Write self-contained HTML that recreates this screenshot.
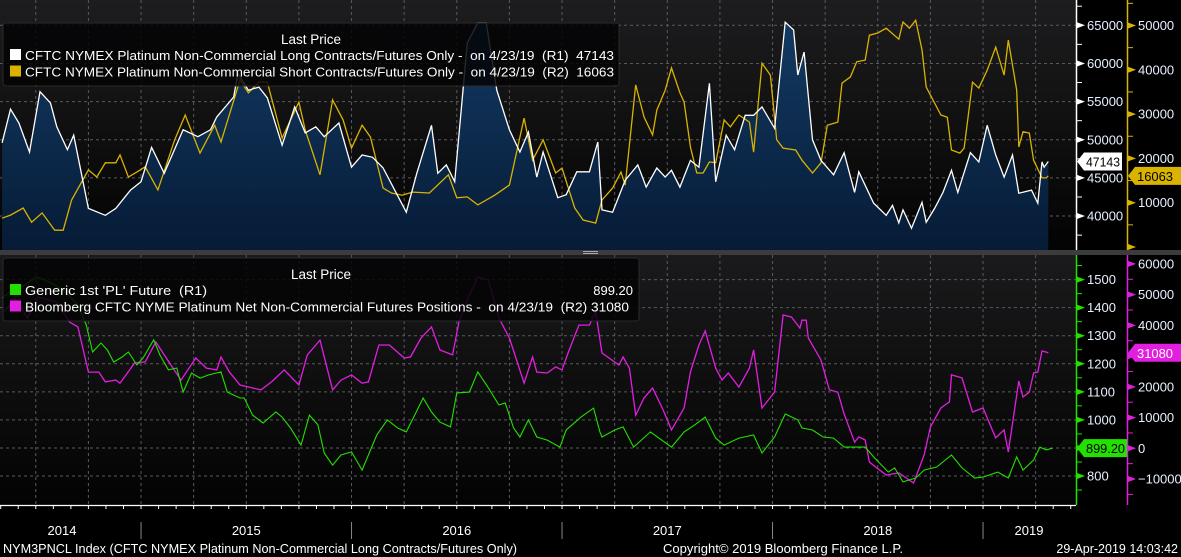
<!DOCTYPE html>
<html><head><meta charset="utf-8"><style>
html,body{margin:0;padding:0;background:#000;width:1181px;height:557px;overflow:hidden}
svg{display:block;font-family:"Liberation Sans",sans-serif}
text{white-space:pre}
</style></head><body>
<svg id="chart" xmlns="http://www.w3.org/2000/svg" width="1181" height="557" viewBox="0 0 1181 557">
<defs>
<linearGradient id="bgU" x1="0" y1="0" x2="0" y2="1"><stop offset="0" stop-color="#1d1d1f"/><stop offset="1" stop-color="#030303"/></linearGradient>
<linearGradient id="bgL" x1="0" y1="0" x2="0" y2="1"><stop offset="0" stop-color="#1a1a1c"/><stop offset="1" stop-color="#030303"/></linearGradient>
<linearGradient id="fillU" x1="0" y1="0" x2="0" y2="1"><stop offset="0" stop-color="#133a63"/><stop offset="1" stop-color="#061b36"/></linearGradient>
<clipPath id="clipU"><rect x="0" y="0" width="1076" height="250"/></clipPath>
<clipPath id="clipL"><rect x="0" y="255" width="1076" height="250"/></clipPath>
</defs>
<rect x="0" y="0" width="1076" height="250" fill="url(#bgU)"/>
<rect x="0" y="255" width="1076" height="250" fill="url(#bgL)"/>
<g id="gU" clip-path="url(#clipU)"></g>
<g id="gL" clip-path="url(#clipL)"></g>
<rect x="0" y="250" width="1181" height="5" fill="#3c3c3e"/>
<rect x="583" y="251" width="15" height="1" fill="#aaa"/>
<rect x="583" y="253" width="15" height="1" fill="#aaa"/>
<g id="axes"></g>
<g id="legends"></g>
<text x="3" y="553" fill="#fff" font-size="12.5" textLength="514" lengthAdjust="spacingAndGlyphs">NYM3PNCL Index (CFTC NYMEX Platinum Non-Commercial Long Contracts/Futures Only)</text>
<text x="663" y="553" fill="#fff" font-size="12.5" textLength="240" lengthAdjust="spacingAndGlyphs">Copyright© 2019 Bloomberg Finance L.P.</text>
<text x="1178" y="553" fill="#fff" font-size="12.5" text-anchor="end">29-Apr-2019 14:03:42</text>
</svg>
<script>
// ---- data (time in decimal years) ----
const longT=[2014.34,2014.38,2014.42,2014.47,2014.52,2014.57,2014.60,2014.65,2014.68,2014.75,2014.83,2014.88,2014.95,2015.00,2015.05,2015.11,2015.20,2015.27,2015.33,2015.36,2015.44,2015.46,2015.51,2015.56,2015.60,2015.67,2015.73,2015.78,2015.83,2015.87,2015.94,2016.00,2016.05,2016.10,2016.15,2016.26,2016.31,2016.38,2016.41,2016.45,2016.49,2016.55,2016.60,2016.64,2016.69,2016.75,2016.80,2016.84,2016.88,2016.91,2016.98,2017.02,2017.07,2017.13,2017.17,2017.19,2017.24,2017.30,2017.36,2017.40,2017.45,2017.49,2017.52,2017.56,2017.61,2017.65,2017.70,2017.73,2017.78,2017.82,2017.87,2017.91,2017.95,2018.01,2018.06,2018.10,2018.12,2018.15,2018.19,2018.23,2018.29,2018.34,2018.39,2018.41,2018.48,2018.54,2018.57,2018.60,2018.62,2018.66,2018.71,2018.73,2018.77,2018.81,2018.85,2018.88,2018.94,2018.98,2019.02,2019.06,2019.10,2019.14,2019.17,2019.23,2019.26,2019.28,2019.29,2019.31];
const longV=[49600,54000,52200,48400,56300,54800,51700,48700,50600,41000,40100,41000,43400,44500,49000,45600,51300,50400,51300,53000,55600,58700,56500,56900,55500,49300,54300,50900,51700,50400,52200,46400,48000,47700,46300,40500,45600,51900,45600,46700,44500,62700,65300,65300,56500,51300,48400,51000,45100,48400,42400,42800,45800,45800,49700,40800,40500,44700,46700,43800,46300,45100,46000,43800,47300,46400,57400,44500,50600,48700,53200,53200,54300,51500,65400,64400,58500,61500,50000,47300,45400,48300,43100,45800,41700,40100,41400,39100,40800,38400,41800,39200,41000,43100,46000,43100,48300,47100,51900,48000,45100,48000,43000,43400,41700,47100,46400,47143];
const shortT=[2014.34,2014.38,2014.44,2014.48,2014.53,2014.59,2014.63,2014.67,2014.75,2014.79,2014.83,2014.88,2014.90,2014.94,2014.98,2015.02,2015.08,2015.16,2015.21,2015.28,2015.35,2015.38,2015.47,2015.51,2015.56,2015.60,2015.67,2015.75,2015.78,2015.85,2015.91,2015.96,2016.00,2016.05,2016.09,2016.15,2016.19,2016.24,2016.29,2016.37,2016.46,2016.50,2016.55,2016.60,2016.68,2016.75,2016.82,2016.86,2016.91,2016.97,2017.00,2017.06,2017.10,2017.16,2017.19,2017.24,2017.28,2017.30,2017.35,2017.39,2017.43,2017.45,2017.49,2017.52,2017.56,2017.58,2017.61,2017.64,2017.67,2017.70,2017.73,2017.77,2017.80,2017.84,2017.89,2017.91,2017.95,2017.99,2018.02,2018.05,2018.11,2018.14,2018.19,2018.23,2018.26,2018.31,2018.33,2018.37,2018.40,2018.44,2018.46,2018.50,2018.54,2018.60,2018.62,2018.65,2018.68,2018.71,2018.73,2018.80,2018.83,2018.85,2018.89,2018.91,2018.95,2018.98,2019.02,2019.06,2019.10,2019.12,2019.16,2019.17,2019.19,2019.22,2019.24,2019.28,2019.30,2019.31];
const shortV=[6500,7200,8800,5600,7700,3800,3800,10600,17400,15800,19000,19000,20800,15800,16900,18100,12900,24200,29800,21200,27500,23700,37700,34800,37200,37200,24600,32700,26400,16300,33200,28700,22300,27500,24800,13300,12200,11700,12400,12200,16300,11100,11300,9500,11700,14000,29100,19600,24200,16700,17800,8800,6100,5400,10600,13300,16900,14000,36600,29300,25300,30900,35400,40400,34800,32700,22600,16700,16700,19200,19000,28700,27100,29800,28200,21400,41500,38800,24200,22300,21900,19600,16700,19000,27500,28200,37000,38400,41800,42200,47800,48300,49400,46900,50800,49400,51200,44500,36100,29800,29300,21900,21200,22300,37200,35900,39900,45100,38800,46700,35400,22600,26000,25700,19600,15600,15600,16063];
const plT=[2014.34,2014.37,2014.40,2014.45,2014.50,2014.54,2014.59,2014.64,2014.70,2014.74,2014.77,2014.81,2014.84,2014.87,2014.91,2014.94,2014.98,2015.01,2015.06,2015.09,2015.13,2015.17,2015.20,2015.24,2015.28,2015.32,2015.38,2015.41,2015.47,2015.49,2015.53,2015.58,2015.64,2015.67,2015.71,2015.76,2015.80,2015.84,2015.87,2015.91,2015.95,2016.00,2016.05,2016.08,2016.12,2016.17,2016.22,2016.26,2016.30,2016.34,2016.38,2016.42,2016.47,2016.50,2016.56,2016.60,2016.65,2016.70,2016.73,2016.77,2016.80,2016.84,2016.88,2016.93,2016.99,2017.02,2017.09,2017.15,2017.18,2017.19,2017.25,2017.29,2017.34,2017.42,2017.46,2017.52,2017.58,2017.63,2017.68,2017.73,2017.77,2017.84,2017.91,2017.95,2018.01,2018.06,2018.12,2018.14,2018.19,2018.24,2018.29,2018.34,2018.40,2018.44,2018.48,2018.55,2018.58,2018.62,2018.68,2018.72,2018.78,2018.85,2018.90,2018.96,2019.00,2019.07,2019.12,2019.16,2019.19,2019.24,2019.27,2019.30,2019.33];
const plV=[1434,1452,1474,1481,1509,1499,1481,1456,1409,1338,1242,1274,1249,1206,1224,1242,1196,1221,1285,1231,1178,1185,1099,1167,1149,1160,1171,1099,1078,1078,1017,989,1028,1010,971,910,1017,982,882,839,875,886,821,875,946,1000,971,957,1017,1078,1028,992,975,1096,1099,1171,1114,1053,1060,971,939,1000,939,928,903,964,1010,1042,957,939,964,975,903,957,935,903,957,982,1010,935,910,935,946,882,939,1021,1000,971,964,939,935,903,903,903,868,814,829,779,793,821,832,875,829,793,796,814,793,868,821,857,903,893,899.2];
const netT=[2014.35,2014.40,2014.46,2014.51,2014.60,2014.66,2014.70,2014.75,2014.80,2014.83,2014.88,2014.90,2014.97,2015.02,2015.07,2015.11,2015.19,2015.26,2015.31,2015.36,2015.38,2015.42,2015.47,2015.57,2015.62,2015.68,2015.75,2015.79,2015.85,2015.91,2015.95,2016.00,2016.05,2016.08,2016.13,2016.18,2016.25,2016.28,2016.33,2016.38,2016.42,2016.48,2016.51,2016.56,2016.60,2016.65,2016.70,2016.75,2016.82,2016.86,2016.88,2016.93,2016.97,2017.00,2017.03,2017.08,2017.13,2017.16,2017.19,2017.27,2017.29,2017.32,2017.35,2017.39,2017.43,2017.48,2017.52,2017.58,2017.61,2017.65,2017.68,2017.73,2017.76,2017.79,2017.84,2017.89,2017.91,2017.95,2018.01,2018.05,2018.09,2018.13,2018.14,2018.16,2018.17,2018.23,2018.27,2018.31,2018.34,2018.39,2018.41,2018.44,2018.46,2018.54,2018.60,2018.67,2018.72,2018.75,2018.80,2018.84,2018.85,2018.90,2018.95,2019.00,2019.06,2019.10,2019.12,2019.17,2019.19,2019.22,2019.24,2019.26,2019.28,2019.31];
const netV=[44400,48900,42400,49200,47600,41100,39500,24800,24800,21600,22200,21200,27800,28100,34600,30400,22200,29400,26100,25500,29700,24800,20600,19000,21600,25500,20600,30400,35200,19000,22200,23900,21200,21600,33600,33600,29400,29700,35900,39500,32000,30400,41100,49900,55700,54800,42400,35900,21200,29700,24800,24500,26500,25500,31300,40100,40100,44400,31000,27100,29700,26100,10800,16400,19600,12500,6000,13100,24800,33600,38200,26100,22200,24500,19900,26100,32000,13100,18300,43400,42700,39100,41700,41700,35900,28700,19000,18300,11200,2000,3700,2700,-4500,-8700,-8000,-11300,-2200,6900,13100,15100,23900,22900,11800,13100,3400,6000,-1200,21900,16700,18300,24500,24800,31700,31080];
// ticks
const upperLeftTicks=[40000,45000,50000,55000,60000,65000];
const upperRightTicks=[0,10000,20000,30000,40000,50000];
const lowerLeftTicks=[800,900,1000,1100,1200,1300,1400,1500];
const lowerRightTicks=[-10000,0,10000,20000,30000,40000,50000,60000];
const yearLabels=["2014","2015","2016","2017","2018","2019"];
const yearStarts=[2014,2015,2016,2017,2018,2019];
const lastLong=47143, lastShort=16063, lastPL=899.20, lastNet=31080;

// ---- scales ----
const X=t=>(t-2014.33)*210.5;
const yU1=v=>25.3+(65000-v)*0.00763;
const yU2=v=>247-v*0.00443;
const yL1=v=>476-(v-800)*0.2806;
const yL2=v=>448.3-v*0.003073;
const NS="http://www.w3.org/2000/svg";
function mk(tag,attrs,parent){const e=document.createElementNS(NS,tag);for(const k in attrs)e.setAttribute(k,attrs[k]);parent.appendChild(e);return e;}
const gU=document.getElementById('gU'),gL=document.getElementById('gL'),ax=document.getElementById('axes'),lg=document.getElementById('legends');

// grids
for(let q=2014.25;q<2019.5;q+=0.25){
  const x=X(q); if(x<0||x>1076)continue;
  const a=mk('line',{x1:x,y1:0,x2:x,y2:250,stroke:'#5a5a5e','stroke-dasharray':'3 3','stroke-width':1},gU);
  
  
  const b=mk('line',{x1:x,y1:255,x2:x,y2:505,stroke:'#5a5a5e','stroke-dasharray':'3 3','stroke-width':1},gL);
  
  
}
upperLeftTicks.forEach(v=>{const y=yU1(v);
  const l=mk('line',{x1:0,y1:y,x2:1076,y2:y,stroke:'#5a5a5e','stroke-dasharray':'3 3'},gU);
  
  });
lowerLeftTicks.forEach(v=>{const y=yL1(v);
  const l=mk('line',{x1:0,y1:y,x2:1076,y2:y,stroke:'#5a5a5e','stroke-dasharray':'3 3'},gL);
  
  });

function pts(T,V,fy){return T.map((t,i)=>X(t).toFixed(1)+','+fy(V[i]).toFixed(1));}
const lp=pts(longT,longV,yU1);
const area=mk('path',{d:'M'+X(longT[0])+',250 L'+lp.join(' L')+' L'+X(longT[longT.length-1])+',250 Z',fill:'url(#fillU)'},gU);


const sl=mk('polyline',{points:pts(shortT,shortV,yU2).join(' '),fill:'none',stroke:'#d9b300','stroke-width':1.3},gU);


const ll=mk('polyline',{points:lp.join(' '),fill:'none',stroke:'#ffffff','stroke-width':1.3},gU);


const nl=mk('polyline',{points:pts(netT,netV,yL2).join(' '),fill:'none',stroke:'#e21ee0','stroke-width':1.3},gL);


const pl=mk('polyline',{points:pts(plT,plV,yL1).join(' '),fill:'none',stroke:'#22e000','stroke-width':1.1},gL);



// axes
function axisLine(x,y1,y2,c,name){const l=mk('line',{x1:x,y1:y1,x2:x,y2:y2,stroke:c,'stroke-width':1.5},ax);
  
  }
axisLine(1076.5,0,250,'#ffffff','upper-left-axis-line');
axisLine(1127.5,0,250,'#d9b300','upper-right-axis-line');
axisLine(1076.5,255,505,'#22e000','lower-left-axis-line');
axisLine(1127.5,255,505,'#e21ee0','lower-right-axis-line');
function tickLabel(x,y,txt,c,lc,name){
  const tr=mk('path',{d:`M${x},${y-3} L${x+8},${y} L${x},${y+3} Z`,fill:c},ax);
  
  
  const t=mk('text',{x:x+10,y:y+4.5,fill:lc,'font-size':13},ax);t.textContent=txt;
  
  
}
function minor(x,y,c){const m=mk('line',{x1:x,y1:y,x2:x+5,y2:y,stroke:c,'stroke-width':1},ax);
  
  }
for(let v=35000;v<=67500;v+=2500){const y=yU1(v);if(y>0&&y<250)minor(1077,y,'#fff');}
for(let v=0;v<=55000;v+=5000){const y=yU2(v);if(y>0&&y<250)minor(1128,y,'#d9b300');}
for(let v=750;v<=1550;v+=50){const y=yL1(v);if(y>255&&y<505)minor(1077,y,'#22e000');}
for(let v=-15000;v<=65000;v+=5000){const y=yL2(v);if(y>255&&y<505)minor(1128,y,'#e21ee0');}
upperLeftTicks.forEach(v=>tickLabel(1077,yU1(v),String(v),'#fff','#e8f0ff','upper-left-axis'));
upperRightTicks.forEach(v=>tickLabel(1128,yU2(v),v===0?'':String(v),'#d9b300','#e8f0ff','upper-right-axis'));
lowerLeftTicks.forEach(v=>tickLabel(1077,yL1(v),String(v),'#22e000','#e8f0ff','lower-left-axis'));
lowerRightTicks.forEach(v=>tickLabel(1128,yL2(v),v<0?'\u2212'+String(-v):String(v),'#e21ee0','#e8f0ff','lower-right-axis'));

function badge(x,y,w,txt,bg,fg,name,tl){
  const p=mk('path',{d:`M${x},${y} L${x+7},${y-9} L${x+w},${y-9} L${x+w},${y+9} L${x+7},${y+9} Z`,fill:bg},ax);
  
  
  const t=mk('text',{x:x+9,y:y+5,fill:fg,'font-size':13,textLength:tl,lengthAdjust:'spacingAndGlyphs'},ax);t.textContent=txt;
  
  
}
badge(1077,yU1(lastLong),45,String(lastLong),'#ffffff','#000','last-long-badge',34);
badge(1128,yU2(lastShort),53,String(lastShort),'#d9b300','#000','last-short-badge',36);
badge(1077,yL1(lastPL),50,lastPL.toFixed(2),'#22e000','#000','last-price-badge',39);
badge(1128,yL2(lastNet),53,String(lastNet),'#e21ee0','#fff','last-net-badge',36);

// x axis
const xl=mk('line',{x1:0,y1:505.5,x2:1076,y2:505.5,stroke:'#fff','stroke-width':1.2},ax);


for(let m=2014+3/12;m<2019.5;m+=1/12){const x=X(m);if(x<0||x>1076)continue;
  const t=mk('line',{x1:x,y1:505,x2:x,y2:509,stroke:'#fff'},ax);
  
  }
yearStarts.forEach((ys,i)=>{
  const x0=Math.max(0,X(ys)), x1=Math.min(1076,X(ys+1));
  if(X(ys)>0){const s=mk('line',{x1:X(ys),y1:522,x2:X(ys),y2:539,stroke:'#888'},ax);
    
    }
  let cx=(x0+x1)/2; if(i===yearLabels.length-1)cx=1029; if(i===0)cx=62;
  const t=mk('text',{x:cx,y:535,fill:'#fff','font-size':13,'text-anchor':'middle'},ax);t.textContent=yearLabels[i];
  
  
});

// legends
function legend(x,y,w,h,lines,name){
  const g=mk('g',{},lg);
  
  
  mk('rect',{x:x,y:y,width:w,height:h,rx:3,fill:'rgba(3,3,5,0.85)',stroke:'#2a2a2a'},g);
  const t=mk('text',{x:x+w/2,y:y+21,fill:'#fff','font-size':13.5,'text-anchor':'middle'},g);t.textContent='Last Price';
  
  
  lines.forEach((L,i)=>{
    const ly=y+37+i*16.5;
    const sw=mk('rect',{x:x+7,y:ly-11,width:11,height:11,fill:L.c},g);
    
    
    const tx=mk('text',{x:x+22,y:ly,fill:'#fff','font-size':13,textLength:L.w,lengthAdjust:'spacingAndGlyphs'},g);tx.textContent=L.t;
    
    
    if(L.v){const v=mk('text',{x:x+w-6,y:ly,fill:'#fff','font-size':13,'text-anchor':'end'},g);v.textContent=L.v;
      
      }
  });
}
legend(3,23,616,63,[
 {c:'#ffffff',t:'CFTC NYMEX Platinum Non-Commercial Long Contracts/Futures Only -  on 4/23/19  (R1)  47143',w:589},
 {c:'#d9b300',t:'CFTC NYMEX Platinum Non-Commercial Short Contracts/Futures Only -  on 4/23/19  (R2)  16063',w:589}
],'upper-legend');
legend(3,258,636,63,[
 {c:'#22e000',t:"Generic 1st 'PL' Future  (R1)",w:182,v:'899.20'},
 {c:'#e21ee0',t:'Bloomberg CFTC NYME Platinum Net Non-Commercial Futures Positions -  on 4/23/19  (R2) 31080',w:604}
],'lower-legend');
</script>
</body></html>
